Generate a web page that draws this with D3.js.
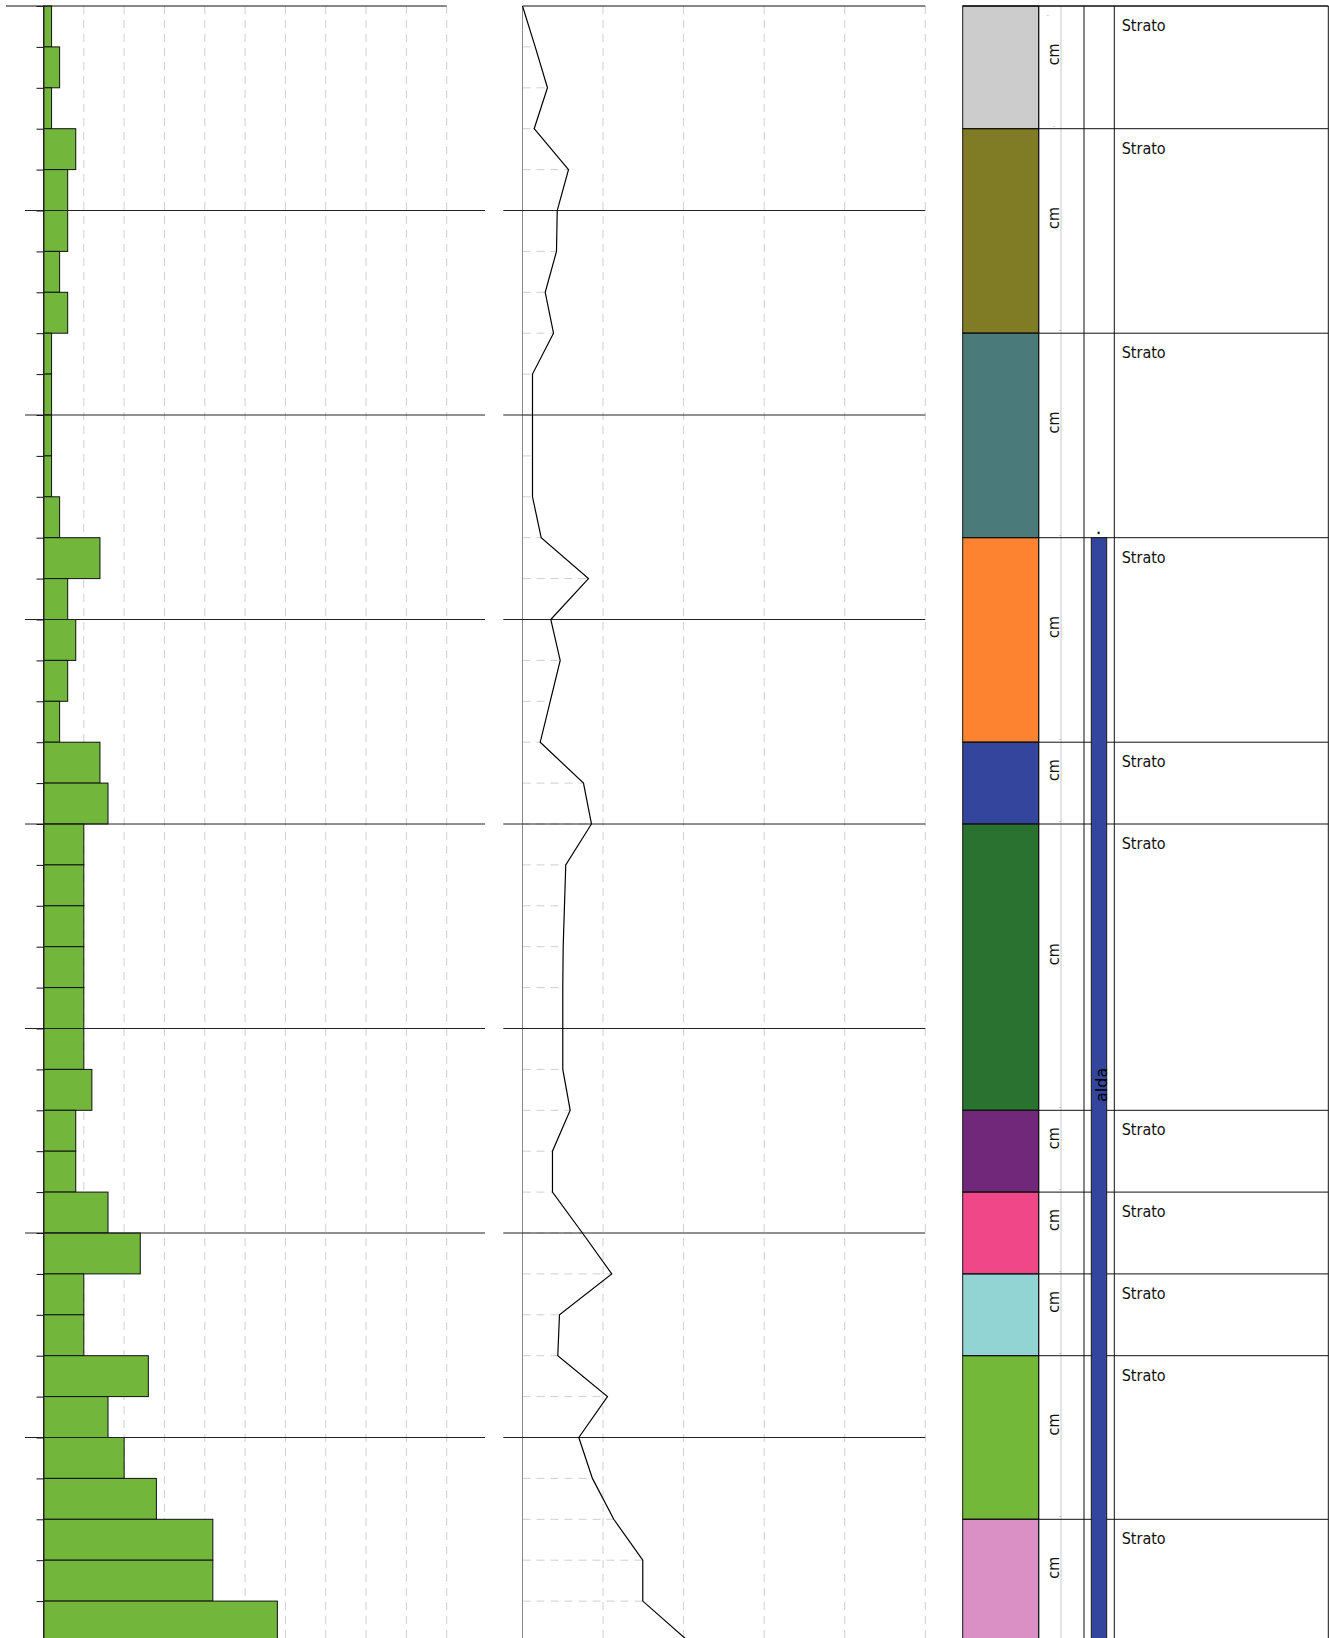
<!DOCTYPE html>
<html>
<head>
<meta charset="utf-8">
<script src="https://cdn.jsdelivr.net/npm/d3@7"></script>
<style>
  html, body { margin: 0; padding: 0; background: #fff; overflow: hidden; }
  svg { display: block; }
  text { font-family: "DejaVu Sans Condensed", "DejaVu Sans", sans-serif; }
</style>
</head>
<body>
<svg id="chart" width="1329" height="1638"></svg>
<script>
// ---------------- data ----------------
const sampleTops = [0,20,40,60,80,100,120,140,160,180,200,220,240,260,280,300,320,340,360,380,
                    400,420,440,460,480,500,520,540,560,580,600,620,640,660,680,700,720,740,760,780];
const sampleStep = 20;
const blows = [1,2,1,4,3,3,2,3,1,1,1,1,2,7,3,4,3,2,7,8,5,5,5,5,5,5,6,4,4,8,12,5,5,13,8,10,14,21,21,29];

const lineDepths = [0,20,40,60,80,100,120,140,160,180,200,220,240,260,280,300,320,340,360,380,
                    400,420,440,460,480,500,520,540,560,580,600,620,640,660,680,700,720,740,760,780,800];
const lineValues = [0,1.58,3.10,1.45,5.71,4.31,4.22,2.82,3.85,1.24,1.24,1.24,1.24,2.32,8.19,3.51,4.68,3.44,2.20,7.57,
                    8.56,5.37,5.21,5.05,5.0,5.0,5.0,5.92,3.72,3.72,7.44,11.08,4.59,4.38,10.55,6.99,8.68,11.33,14.93,14.93,20.7];

const majorDepths = [100,200,300,400,500,600,700];
const barGridTicks = [5,10,15,20,25,30,35,40,45,50];
const lineGridTicks = [10,20,30,40,50];

const layerTops    = [0,60,160,260,360,400,540,580,620,660,740];
const layerBottoms = [60,160,260,360,400,540,580,620,660,740,800];
const layerColors  = ["#cccccc","#807b25","#4a7a79","#fd8330","#34459d","#29722f","#71287a","#ef4787","#91d4d3","#74b83a","#da8fc5"];
const layerNames   = ["Strato","Strato","Strato","Strato","Strato","Strato","Strato","Strato","Strato","Strato","Strato"];
const layerUnits   = ["cm","cm","cm","cm","cm","cm","cm","cm","cm","cm","cm"];

const waterTop = 260;
const waterLabel = "alda";

// ---------------- scales ----------------
const svg = d3.select("#chart");
const y  = d3.scaleLinear().domain([0, 800]).range([6, 1642]);
const xL = d3.scaleLinear().domain([0, 50]).range([43.5, 446.7]);
const xM = d3.scaleLinear().domain([0, 50]).range([522.5, 925.3]);
const bottom = 1642;

const gridColor = "#cfcfcf";
const dash = "8,6";

// ---------------- left panel: bars ----------------
const gL = svg.append("g");
gL.selectAll("line.vgrid").data(barGridTicks).join("line")
  .attr("x1", d => xL(d)).attr("x2", d => xL(d))
  .attr("y1", y(0)).attr("y2", bottom)
  .attr("stroke", gridColor).attr("stroke-width", 1).attr("stroke-dasharray", dash);

gL.selectAll("rect.bar").data(blows).join("rect")
  .attr("x", xL(0))
  .attr("y", (d, i) => y(sampleTops[i]))
  .attr("width", d => xL(d) - xL(0))
  .attr("height", (d, i) => y(sampleTops[i] + sampleStep) - y(sampleTops[i]))
  .attr("fill", "#72b73b").attr("stroke", "#111").attr("stroke-width", 1);

// left ticks via axis
const axL = d3.axisLeft(y).tickValues(sampleTops.slice(1)).tickSize(7).tickFormat("");
const gAxL = gL.append("g").attr("transform", `translate(${xL(0)},0)`).call(axL);
gAxL.select(".domain").attr("stroke", "#333").attr("stroke-width", 1.2);
gAxL.selectAll(".tick line").attr("stroke", "#111");

gL.append("line").attr("x1", 6).attr("x2", xL(50)).attr("y1", y(0)).attr("y2", y(0))
  .attr("stroke", "#111").attr("stroke-width", 1);
gL.selectAll("line.major").data(majorDepths).join("line")
  .attr("x1", 25).attr("x2", 485).attr("y1", d => y(d)).attr("y2", d => y(d))
  .attr("stroke", "#222").attr("stroke-width", 1);

// ---------------- middle panel: line ----------------
const gM = svg.append("g");
gM.selectAll("line.vgrid").data(lineGridTicks).join("line")
  .attr("x1", d => xM(d)).attr("x2", d => xM(d))
  .attr("y1", y(0)).attr("y2", bottom)
  .attr("stroke", gridColor).attr("stroke-width", 1).attr("stroke-dasharray", dash);

// drop lines from axis to each point
gM.selectAll("line.drop").data(lineValues.slice(1, -1)).join("line")
  .attr("x1", xM(0)).attr("x2", d => xM(d))
  .attr("y1", (d, i) => y(lineDepths[i + 1])).attr("y2", (d, i) => y(lineDepths[i + 1]))
  .attr("stroke", gridColor).attr("stroke-width", 1).attr("stroke-dasharray", dash);

gM.append("line").attr("x1", xM(0)).attr("x2", xM(0)).attr("y1", y(0)).attr("y2", bottom)
  .attr("stroke", "#8a8a8a").attr("stroke-width", 1);

gM.append("line").attr("x1", xM(0)).attr("x2", xM(50)).attr("y1", y(0)).attr("y2", y(0))
  .attr("stroke", "#111").attr("stroke-width", 1);
gM.selectAll("line.major").data(majorDepths).join("line")
  .attr("x1", 503.3).attr("x2", xM(50)).attr("y1", d => y(d)).attr("y2", d => y(d))
  .attr("stroke", "#222").attr("stroke-width", 1);

const lineGen = d3.line().x(d => xM(d[1])).y(d => y(d[0]));
gM.append("path")
  .datum(lineDepths.map((d, i) => [d, lineValues[i]]))
  .attr("d", lineGen)
  .attr("fill", "none").attr("stroke", "#000").attr("stroke-width", 1.2);

// ---------------- right panel: stratigraphy ----------------
const gR = svg.append("g");
const colX0 = 962.7, colX1 = 1038.7, cmX1 = 1084, wX1 = 1114.3, descX1 = 1328.3;

gR.selectAll("rect.layer").data(layerTops).join("rect")
  .attr("x", colX0).attr("width", colX1 - colX0)
  .attr("y", d => y(d))
  .attr("height", (d, i) => y(layerBottoms[i]) - y(d))
  .attr("fill", (d, i) => layerColors[i])
  .attr("stroke", "#1a1a1a").attr("stroke-width", 1);

// light separator inside cm column
gR.append("line").attr("x1", 1061).attr("x2", 1061).attr("y1", y(0)).attr("y2", bottom)
  .attr("stroke", "#c8c8c8").attr("stroke-width", 1);

// column borders
[colX1, cmX1, wX1, descX1].forEach(xv => {
  gR.append("line").attr("x1", xv).attr("x2", xv).attr("y1", y(0)).attr("y2", bottom)
    .attr("stroke", "#111").attr("stroke-width", 1);
});
// layer boundaries
gR.selectAll("line.bound").data(layerTops).join("line")
  .attr("x1", colX0).attr("x2", descX1)
  .attr("y1", d => y(d)).attr("y2", d => y(d))
  .attr("stroke", "#111").attr("stroke-width", 1);

// thickness labels
gR.selectAll("text.cm").data(layerTops).join("text")
  .attr("transform", (d, i) => `translate(1058.5,${(y(d) + y(layerBottoms[i])) / 2 - 2}) rotate(-90)`)
  .attr("text-anchor", "start")
  .attr("font-size", 16).attr("fill", "#111")
  .text((d, i) => layerUnits[i]);

// tiny depth dots
gR.selectAll("text.dot").data(layerBottoms.slice(0, -1)).join("text")
  .attr("x", (d, i) => i === 0 ? 1053 : 1059)
  .attr("y", d => y(d) - 2)
  .attr("font-size", 6).attr("fill", "#333")
  .text(".");
gR.append("text").attr("x", 1047).attr("y", y(0) + 10).attr("font-size", 6).attr("fill", "#333").text(".");

// descriptions
gR.selectAll("text.desc").data(layerTops).join("text")
  .attr("x", 1121.7).attr("y", d => y(d) + 25)
  .attr("font-size", 16).attr("fill", "#111")
  .text((d, i) => layerNames[i]);

// water table bar
gR.append("rect")
  .attr("x", 1091.3).attr("width", 15.4)
  .attr("y", y(waterTop)).attr("height", bottom - y(waterTop))
  .attr("fill", "#34459d").attr("stroke", "#1a1a1a").attr("stroke-width", 1);
gR.append("text").attr("x", 1096.5).attr("y", y(waterTop) - 4)
  .attr("font-size", 12).attr("font-weight", "bold").attr("fill", "#111").text(".");
gR.append("text")
  .attr("transform", `translate(1107,1102) rotate(-90)`)
  .style("font-family", "'DejaVu Sans', sans-serif")
  .attr("font-size", 16).attr("fill", "#000")
  .text(waterLabel);

// top border of right panel
gR.append("line").attr("x1", colX0).attr("x2", descX1).attr("y1", y(0)).attr("y2", y(0))
  .attr("stroke", "#111").attr("stroke-width", 1);
</script>
</body>
</html>
